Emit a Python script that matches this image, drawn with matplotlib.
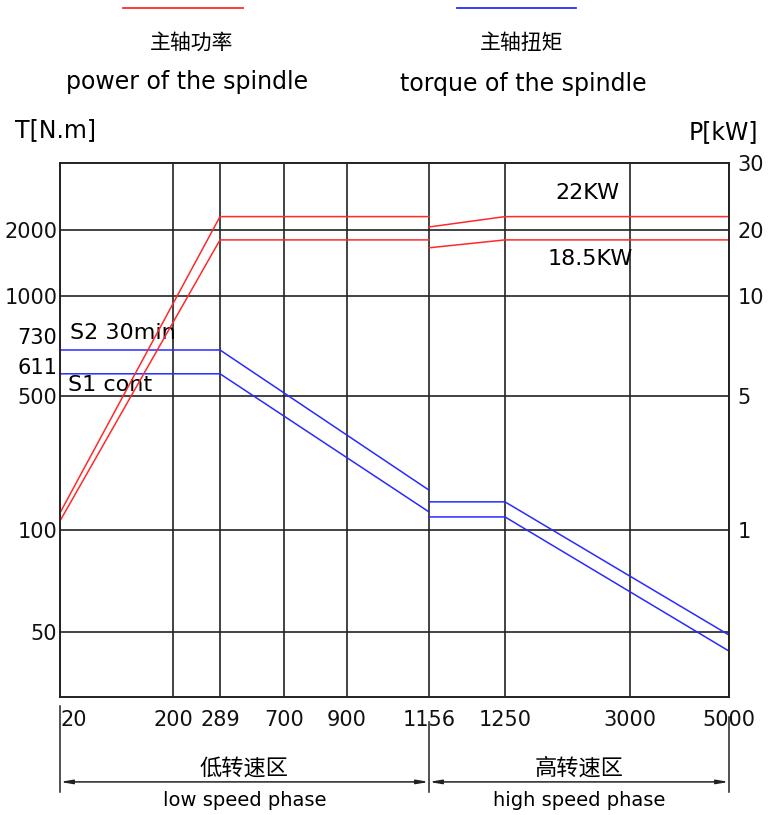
import numpy as np
import matplotlib
matplotlib.use("Agg")
import matplotlib.pyplot as plt

plt.rcParams["font.family"] = ["DejaVu Sans", "Noto Sans CJK SC"]

# rotacoes (rpm) marcadas no eixo x
rotacoes = [20, 200, 289, 700, 900, 1156, 1250, 3000, 5000]

# torque (N.m) - baixa e alta rotacao
rot_baixa = [20, 289, 1156]
rot_alta = [1156, 1250, 5000]
torque_s2_baixa = [730, 730, 219]
torque_s1_baixa = [611, 611, 154]
torque_s2_alta = [184, 184, 48.6]
torque_s1_alta = [139, 139, 41.2]

# potencia (kW)
pot_s2_baixa = [1.51, 22, 22]
pot_s1_baixa = [1.27, 18.5, 18.5]
pot_s2_alta = [20.45, 22, 22]
pot_s1_alta = [17.3, 18.5, 18.5]

ticks_torque = [50, 100, 500, 1000, 2000]
ticks_pot = [1, 5, 10, 20, 30]

# escalas "desenhadas" (nao sao log de verdade)
pos_x = [0, 113, 160, 224, 287, 369, 445, 570, 669]
nos_t = [20, 50, 100, 500, 1000, 2000, 3000]
pos_t = [0, 65, 167, 301, 401, 467, 534]
nos_p = [t / 100 for t in nos_t]


def fx(v):
    return np.interp(v, rotacoes, pos_x)


def fx_inv(p):
    return np.interp(p, pos_x, rotacoes)


def ft(v):
    return np.interp(v, nos_t, pos_t)


def ft_inv(p):
    return np.interp(p, pos_t, nos_t)


def fp(v):
    return np.interp(v, nos_p, pos_t)


def fp_inv(p):
    return np.interp(p, pos_t, nos_p)


fig = plt.figure(figsize=(7.68, 8.15), dpi=100)
ax = fig.add_axes([60 / 768, 1 - 697 / 815, 669 / 768, 534 / 815])
ax.set_xscale("function", functions=(fx, fx_inv))
ax.set_yscale("function", functions=(ft, ft_inv))
ax.set_xlim(20, 5000)
ax.set_ylim(20, 3000)

preto = "#222222"
vermelho = "#ff2a2a"
azul = "#2a2aff"
tam = 15

ax.set_xticks(rotacoes)
ax.set_xticklabels([str(r) for r in rotacoes], fontsize=tam)
ax.set_yticks(ticks_torque)
ax.set_yticklabels([str(t) for t in ticks_torque], fontsize=tam)
ax.yaxis.set_minor_locator(matplotlib.ticker.NullLocator())
ax.xaxis.set_minor_locator(matplotlib.ticker.NullLocator())
ax.tick_params(axis="both", length=0, colors="#111111")
ax.tick_params(axis="x", pad=9)
ax.tick_params(axis="y", pad=2)
ax.get_xticklabels()[0].set_ha("left")
ax.grid(True, color=preto, lw=1.2)
for s in ax.spines.values():
    s.set_color(preto)
    s.set_linewidth(1.2)

ax.plot(rot_baixa, torque_s2_baixa, color=azul, lw=1.1)
ax.plot(rot_baixa, torque_s1_baixa, color=azul, lw=1.1)
ax.plot(rot_alta, torque_s2_alta, color=azul, lw=1.1)
ax.plot(rot_alta, torque_s1_alta, color=azul, lw=1.1)

ax2 = ax.twinx()
ax2.set_yscale("function", functions=(fp, fp_inv))
ax2.set_ylim(0.2, 30)
ax2.set_yticks(ticks_pot)
ax2.set_yticklabels([str(p) for p in ticks_pot], fontsize=tam)
ax2.yaxis.set_minor_locator(matplotlib.ticker.NullLocator())
ax2.tick_params(axis="y", length=0, pad=6, colors="#111111")
for s in ax2.spines.values():
    s.set_color(preto)
    s.set_linewidth(1.2)

ax2.plot(rot_baixa, pot_s2_baixa, color=vermelho, lw=1.1)
ax2.plot(rot_baixa, pot_s1_baixa, color=vermelho, lw=1.1)
ax2.plot(rot_alta, pot_s2_alta, color=vermelho, lw=1.1)
ax2.plot(rot_alta, pot_s1_alta, color=vermelho, lw=1.1)

# rotulos extras do eixo esquerdo
ax.text(-0.004, 0.672, "730", transform=ax.transAxes, ha="right", va="center", fontsize=tam)
ax.text(-0.004, 0.616, "611", transform=ax.transAxes, ha="right", va="center", fontsize=tam)

ax.text(0.015, 0.682, "S2 30min", transform=ax.transAxes, ha="left", va="center", fontsize=16)
ax.text(0.012, 0.584, "S1 cont", transform=ax.transAxes, ha="left", va="center", fontsize=16)
ax.text(0.837, 0.944, "22KW", transform=ax.transAxes, ha="right", va="center", fontsize=16)
ax.text(0.857, 0.820, "18.5KW", transform=ax.transAxes, ha="right", va="center", fontsize=16)

fig.text(15 / 768, 1 - 130 / 815, "T[N.m]", ha="left", va="center", fontsize=17)
fig.text(689 / 768, 1 - 132 / 815, "P[kW]", ha="left", va="center", fontsize=17)

# legenda do topo
fig.add_artist(plt.Line2D([123 / 768, 243 / 768], [1 - 8 / 815] * 2, color=vermelho, lw=1.3))
fig.add_artist(plt.Line2D([457 / 768, 576 / 768], [1 - 8 / 815] * 2, color=azul, lw=1.3))
fig.text(192 / 768, 1 - 43 / 815, "主轴功率", ha="center", va="center", fontsize=15)
fig.text(187 / 768, 1 - 82 / 815, "power of the spindle", ha="center", va="center", fontsize=17)
fig.text(522 / 768, 1 - 43 / 815, "主轴扭矩", ha="center", va="center", fontsize=15)
fig.text(523 / 768, 1 - 84 / 815, "torque of the spindle", ha="center", va="center", fontsize=17)

# cotas de baixa / alta rotacao
tx = ax.get_xaxis_transform()
y_cota = -0.159
for r, y0 in [(20, -0.017), (1156, -0.047), (5000, -0.037)]:
    ax.plot([r, r], [y0, -0.178], transform=tx, color=preto, lw=1.1, clip_on=False)
for a, b in [(20, 1156), (1156, 5000)]:
    ax.annotate("", xy=(a, y_cota), xytext=(b, y_cota), xycoords=tx, textcoords=tx,
                annotation_clip=False,
                arrowprops=dict(arrowstyle="<|-|>,head_length=0.7,head_width=0.12",
                                color=preto, lw=1.1, shrinkA=0, shrinkB=0))

meio_baixa = fx_inv((fx(20) + fx(1156)) / 2)
meio_alta = fx_inv((fx(1156) + fx(5000)) / 2)
ax.text(meio_baixa, -0.133, "低转速区", transform=tx, ha="center", va="center", fontsize=16)
ax.text(meio_baixa, -0.193, "low speed phase", transform=tx, ha="center", va="center", fontsize=14)
ax.text(meio_alta, -0.133, "高转速区", transform=tx, ha="center", va="center", fontsize=16)
ax.text(meio_alta, -0.193, "high speed phase", transform=tx, ha="center", va="center", fontsize=14)

plt.savefig("out.png", dpi=100)
